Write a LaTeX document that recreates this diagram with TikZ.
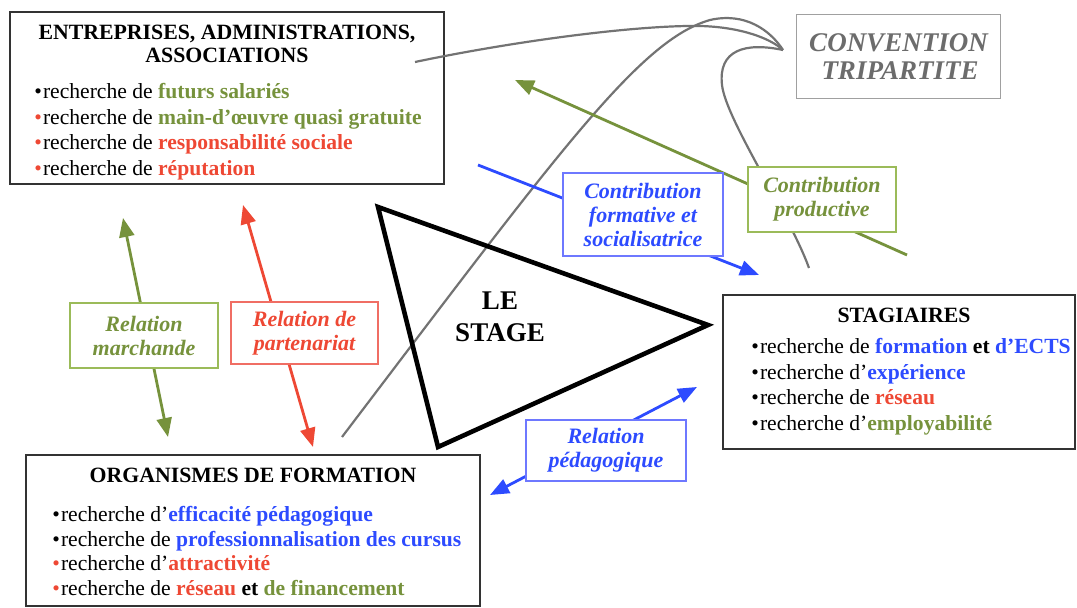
\documentclass[tikz,border=0pt]{standalone}
\usepackage{fontspec}
\setmainfont{Liberation Serif}
\usetikzlibrary{arrows.meta}
\definecolor{gr}{RGB}{118,146,60}
\definecolor{grb}{RGB}{155,187,89}
\definecolor{rd}{RGB}{238,72,52}
\definecolor{rdb}{RGB}{240,110,100}
\definecolor{bl}{RGB}{45,75,255}
\definecolor{blb}{RGB}{110,120,255}
\definecolor{cvg}{RGB}{108,108,108}
\definecolor{cvb}{RGB}{160,160,160}
\definecolor{crv}{RGB}{115,115,115}
\newcommand{\bu}[1]{\textcolor{#1}{\textbullet}\hspace{0.05em}}
\newcommand{\hl}[2]{\textbf{\textcolor{#1}{#2}}}
\begin{document}
\begin{tikzpicture}[x=0.5pt,y=-0.5pt,
  every node/.style={inner sep=0pt},
  body/.style={font=\fontsize{10.8}{12.5}\selectfont, anchor=base west},
  ttl/.style={font=\fontsize{10.9}{12.5}\selectfont\bfseries, anchor=base},
  mainbox/.style={draw=black!80, line width=1pt},
  lab/.style={draw=#1, fill=white, line width=0.6pt, align=center, font=\fontsize{11}{12}\selectfont\bfseries\itshape},
  curve/.style={draw=crv, line width=1.1pt},
  arr/.style={line width=1.4pt, -{Triangle[length=9.5pt,width=7.5pt]}},
  darr/.style={line width=1.4pt, {Triangle[length=9.5pt,width=7.5pt]}-{Triangle[length=9.5pt,width=7.5pt]}}]
\useasboundingbox (0,0) rectangle (1077,608);

% main boxes
\node[mainbox, minimum width=217pt, minimum height=86pt] (ent) at (227,98) {};
\node[draw=cvb, line width=0.8pt, minimum width=102pt, minimum height=42pt] (conv) at (898.5,56.5) {};
\node[mainbox, minimum width=176pt, minimum height=77pt] (stag) at (899,372) {};
\node[mainbox, minimum width=227pt, minimum height=75.5pt] (org) at (253,530.5) {};

% gray curves of the convention
\coordinate (tip) at (783,50);
\coordinate (aS) at (415,62);
\coordinate (bS) at (342,437);
\coordinate (cE) at (809,268);
\draw[curve] (aS) .. controls (520,40) and (640,25) .. (700,26) .. controls (740,27) and (770,38) .. (tip);
\draw[curve] (bS) .. controls (560,150) and (640,40) .. (710,20) .. controls (745,12) and (770,30) .. (tip);
\draw[curve] (tip) .. controls (745,42) and (718,50) .. (722,85) .. controls (726,120) and (790,215) .. (cE);

% triangle
\coordinate (t1) at (378,207);
\coordinate (t2) at (708,325);
\coordinate (t3) at (438,447);
\draw[line width=2.3pt, line join=miter] (t1) -- (t2) -- (t3) -- cycle;
\node[anchor=base, font=\fontsize{13.5}{16}\selectfont\bfseries] (le) at (500,310) {LE};
\node[anchor=base, font=\fontsize{13.5}{16}\selectfont\bfseries] (stg) at (500,342) {STAGE};

% convention text
\node[anchor=base, font=\fontsize{13.5}{14}\selectfont\bfseries\itshape, text=cvg] (conv1) at (898.5,52) {CONVENTION};
\node[anchor=base, font=\fontsize{13.5}{14}\selectfont\bfseries\itshape, text=cvg] (conv2) at (900,80) {TRIPARTITE};

% arrows
\coordinate (m1) at (123,218); \coordinate (m2) at (168,437);
\coordinate (p1) at (243,205); \coordinate (p2) at (313,447);
\coordinate (g1) at (697,387); \coordinate (g2) at (490,495);
\coordinate (f1) at (478,165); \coordinate (f2) at (759,275);
\coordinate (c1) at (907,255); \coordinate (c2) at (515,80);
\draw[darr, gr] (m1) -- (m2);
\draw[darr, rd] (p1) -- (p2);
\draw[darr, bl] (g1) -- (g2);
\draw[arr, bl] (f1) -- (f2);
\draw[arr, gr] (c1) -- (c2);

% labels
\node[lab=grb, text=gr, minimum width=74pt, minimum height=32.5pt] (lm) at (144,335.5) {Relation\\marchande};
\node[lab=rdb, text=rd, minimum width=73.5pt, minimum height=31pt] (lp) at (304.5,333) {Relation de\\partenariat};
\node[lab=blb, text=bl, minimum width=80pt, minimum height=30.5pt] (lg) at (606,450.5) {Relation\\pédagogique};
\node[lab=blb, text=bl, minimum width=80pt, minimum height=41.5pt] (lf) at (643,214.5) {Contribution\\formative et\\socialisatrice};
\node[lab=grb, text=gr, minimum width=74pt, minimum height=32.5pt] (lc) at (822,199.5) {Contribution\\productive};

% entreprises
\node[ttl] (e0a) at (227,40) {ENTREPRISES, ADMINISTRATIONS,};
\node[ttl] (e0b) at (227,63) {ASSOCIATIONS};
\node[body] (e1) at (34,99) {\bu{black}recherche de \hl{gr}{futurs salariés}};
\node[body] (e2) at (34,124.5) {\bu{rd}recherche de \hl{gr}{main-d’œuvre quasi gratuite}};
\node[body] (e3) at (34,150) {\bu{rd}recherche de \hl{rd}{responsabilité sociale}};
\node[body] (e4) at (34,175.5) {\bu{rd}recherche de \hl{rd}{réputation}};

% stagiaires
\node[ttl] (s0) at (904,323) {STAGIAIRES};
\node[body] (s1) at (751,354) {\bu{black}recherche de \hl{bl}{formation} \textbf{et} \hl{bl}{d’ECTS}};
\node[body] (s2) at (751,379.5) {\bu{black}recherche d’\hl{bl}{expérience}};
\node[body] (s3) at (751,405) {\bu{black}recherche de \hl{rd}{réseau}};
\node[body] (s4) at (751,430.5) {\bu{black}recherche d’\hl{gr}{employabilité}};

% organismes
\node[ttl] (o0) at (253,483) {ORGANISMES DE FORMATION};
\node[body] (o1) at (52,522) {\bu{black}recherche d’\hl{bl}{efficacité pédagogique}};
\node[body] (o2) at (52,546.5) {\bu{black}recherche de \hl{bl}{professionnalisation des cursus}};
\node[body] (o3) at (52,571) {\bu{rd}recherche d’\hl{rd}{attractivité}};
\node[body] (o4) at (52,595.5) {\bu{rd}recherche de \hl{rd}{réseau} \textbf{et} \hl{gr}{de financement}};
\end{tikzpicture}
\end{document}
